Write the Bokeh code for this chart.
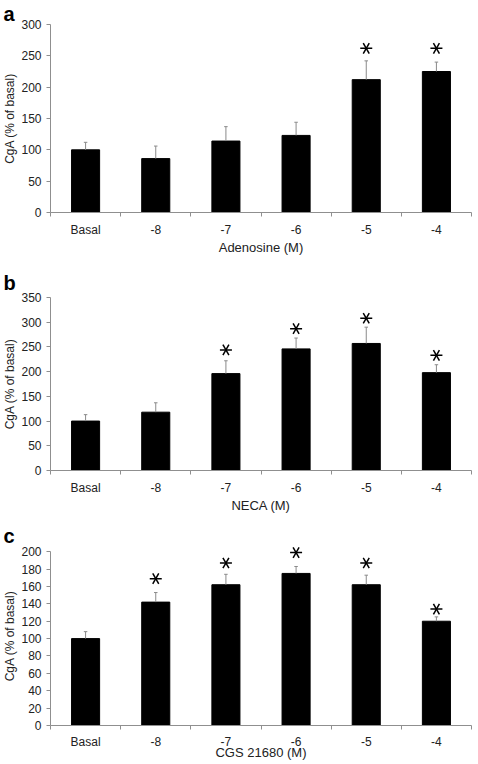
import math
from bokeh.plotting import figure
from bokeh.layouts import column
from bokeh.models import FixedTicker, Range1d
from bokeh.embed import file_html
from bokeh.resources import INLINE

nan = float("nan")

# ---------------- data ----------------
categories = ["Basal", "-8", "-7", "-6", "-5", "-4"]

adenosine_mean = [100, 86, 114, 123, 212, 225]
adenosine_sem = [12, 20, 23, 21, 30, 15]
adenosine_star = [nan, nan, nan, nan, 262, 262]

neca_mean = [100, 118, 196, 246, 257, 198]
neca_sem = [13, 19, 26, 22, 33, 16]
neca_star = [nan, nan, 244, 287, 308, 233]

cgs_mean = [100, 142, 162, 175, 162, 120]
cgs_sem = [8, 11, 12, 8, 11, 5]
cgs_star = [nan, 169, 187, 199, 187, 134]

yticks_a = [0, 50, 100, 150, 200, 250, 300]
yticks_b = [0, 50, 100, 150, 200, 250, 300, 350]
yticks_c = [0, 20, 40, 60, 80, 100, 120, 140, 160, 180, 200]

panel_letters = ["a", "b", "c"]
x_titles = ["Adenosine (M)", "NECA (M)", "CGS 21680 (M)"]
y_title = "CgA (% of basal)"

# ---------------- style ----------------
FONT = "Liberation Sans"
TEXT = "#222222"
AXIS = "#8f8f8f"
ERR = "#8a8a8a"

centers = [i + 0.5 for i in range(len(categories))]
bounds = [float(i) for i in range(len(categories) + 1)]


def panel(letter, xtitle, mean, sem, star, yticks, range_top, frame_h,
          top_b, bot_b, letter_standoff, label_standoff, title_standoff):
    p = figure(frame_width=421, frame_height=frame_h,
               x_range=Range1d(0, len(categories)),
               y_range=Range1d(yticks[0], range_top),
               output_backend="svg", toolbar_location=None,
               min_border_left=48, min_border_right=1,
               min_border_top=top_b, min_border_bottom=bot_b)
    p.xgrid.visible = False
    p.ygrid.visible = False
    p.outline_line_color = None
    p.background_fill_color = "white"
    p.border_fill_color = "white"

    p.title.text = letter
    p.title.text_font = FONT
    p.title.text_font_size = "20px"
    p.title.text_font_style = "bold"
    p.title.text_color = "black"
    p.title.align = "left"
    p.title.offset = -47
    p.title.standoff = letter_standoff

    upper = [m + s for m, s in zip(mean, sem)]
    p.vbar(x=centers, top=mean, bottom=0, width=0.4,
           fill_color="black", line_color="black")
    p.segment(x0=centers, y0=mean, x1=centers, y1=upper,
              line_color=ERR, line_width=1)
    p.segment(x0=[c - 0.025 for c in centers], y0=upper,
              x1=[c + 0.025 for c in centers], y1=upper,
              line_color=ERR, line_width=1)

    sx = [c for c, s in zip(centers, star) if not math.isnan(s)]
    sy = [s for s in star if not math.isnan(s)]
    for ang in (0, math.pi / 3, -math.pi / 3):
        p.scatter(x=sx, y=sy, marker="dash", size=12, angle=ang,
                  line_color="black", line_width=1.5)

    xa = p.xaxis[0]
    xa.ticker = FixedTicker(ticks=centers, minor_ticks=bounds)
    xa.major_label_overrides = {c: lab for c, lab in zip(centers, categories)}
    xa.major_tick_out = 0
    xa.major_tick_in = 0
    xa.minor_tick_out = 4
    xa.minor_tick_in = 0
    xa.minor_tick_line_color = AXIS
    xa.axis_line_color = AXIS
    xa.major_label_text_font = FONT
    xa.major_label_text_font_size = "12px"
    xa.major_label_text_color = TEXT
    xa.major_label_standoff = label_standoff
    xa.axis_label = xtitle
    xa.axis_label_text_font = FONT
    xa.axis_label_text_font_size = "13px"
    xa.axis_label_text_font_style = "normal"
    xa.axis_label_text_color = TEXT
    xa.axis_label_standoff = title_standoff

    ya = p.yaxis[0]
    ya.ticker = FixedTicker(ticks=yticks)
    ya.bounds = (yticks[0], yticks[-1])
    ya.major_tick_out = 4
    ya.major_tick_in = 0
    ya.major_tick_line_color = AXIS
    ya.axis_line_color = AXIS
    ya.major_label_text_font = FONT
    ya.major_label_text_font_size = "12px"
    ya.major_label_text_color = TEXT
    ya.major_label_standoff = 5
    ya.axis_label = y_title
    ya.axis_label_text_font = FONT
    ya.axis_label_text_font_size = "12px"
    ya.axis_label_text_font_style = "normal"
    ya.axis_label_text_color = TEXT
    ya.axis_label_standoff = 1
    return p


pa = panel(panel_letters[0], x_titles[0], adenosine_mean, adenosine_sem,
           adenosine_star, yticks_a, 300, 188, 0, 43, 0, 6, 0)
pb = panel(panel_letters[1], x_titles[1], neca_mean, neca_sem,
           neca_star, yticks_b, 350, 173, 40, 43, 7, 6, 0)
pc = panel(panel_letters[2], x_titles[2], cgs_mean, cgs_sem,
           cgs_star, yticks_c, 206, 179, 31, 35, 0, 5, -7)

layout = column(pa, pb, pc, spacing=0)
open("out.html", "w").write(file_html(layout, INLINE))
